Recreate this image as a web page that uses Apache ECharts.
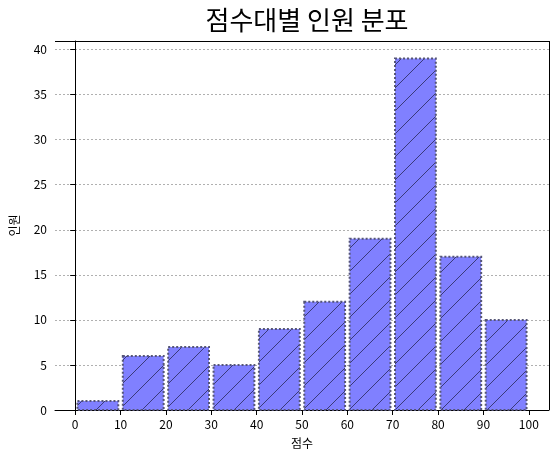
<!DOCTYPE html>
<html><head><meta charset="utf-8">
<script src="https://cdn.jsdelivr.net/npm/echarts@6/dist/echarts.min.js"></script>
<style>html,body{margin:0;padding:0;background:#fff}#c{width:559px;height:461px}</style>
</head><body><div id="c"></div>
<script>
const binStarts = [0,10,20,30,40,50,60,70,80,90];
const counts = [1,6,7,5,9,12,19,39,17,10];
const xTicks = [0,10,20,30,40,50,60,70,80,90,100];
const yTicks = [0,5,10,15,20,25,30,35,40];

const pc = document.createElement('canvas');
pc.width = 23; pc.height = 23;
const g = pc.getContext('2d');
g.fillStyle = '#8080ff'; g.fillRect(0,0,23,23);
g.strokeStyle = '#3a3a7a'; g.lineWidth = 1;
g.beginPath(); g.moveTo(-1,24); g.lineTo(24,-1); g.stroke();

const font = 'Noto Sans CJK KR';
const chart = echarts.init(document.getElementById('c'));
chart.setOption({
  animation:false,
  textStyle:{fontFamily:font},
  title:{text:'점수대별 인원 분포',left:302,top:2,textAlign:'center',textStyle:{fontSize:26,fontWeight:'normal',color:'#000',fontFamily:font}},
  grid:{left:55,right:10,top:41,bottom:51},
  xAxis:{type:'value',min:-4.45,max:104.45,name:'점수',nameLocation:'middle',nameGap:27,
    nameTextStyle:{fontSize:12,color:'#000'},
    axisLine:{show:true,onZero:false,lineStyle:{color:'#000'}},
    axisTick:{show:true,customValues:xTicks,lineStyle:{color:'#000'}},
    axisLabel:{customValues:xTicks,color:'#000',fontSize:12},
    splitLine:{show:false}},
  yAxis:{type:'value',min:0,max:40.95,name:'인원',nameLocation:'middle',nameGap:35,
    nameTextStyle:{fontSize:12,color:'#000'},
    axisLine:{show:true,lineStyle:{color:'#000'}},
    axisTick:{show:true,customValues:yTicks,lineStyle:{color:'#000'}},
    axisLabel:{customValues:yTicks,color:'#000',fontSize:12},
    splitLine:{show:true,showMinLine:false,lineStyle:{color:'#b0b0b0',type:[2,2]}}},
  series:[{type:'custom',
    data:binStarts.map((b,i)=>[b,counts[i]]),
    renderItem:function(params,api){
      const b=api.value(0), v=api.value(1);
      const p0=api.coord([b+0.5,v]), p1=api.coord([b+9.5,0]);
      return {type:'rect',shape:{x:p0[0],y:p0[1],width:p1[0]-p0[0],height:p1[1]-p0[1]},
        style:{fill:{image:pc,repeat:'repeat'},stroke:'#555577',lineWidth:2,lineDash:[2,2]}};
    }},
    {type:'line',data:[],markLine:{silent:true,symbol:'none',label:{show:false},
      lineStyle:{color:'#000',type:'solid',width:1},
      data:[{xAxis:104.45},[{coord:[-4.45,40.95]},{coord:[104.45,40.95]}]]}}]
});
</script></body></html>
